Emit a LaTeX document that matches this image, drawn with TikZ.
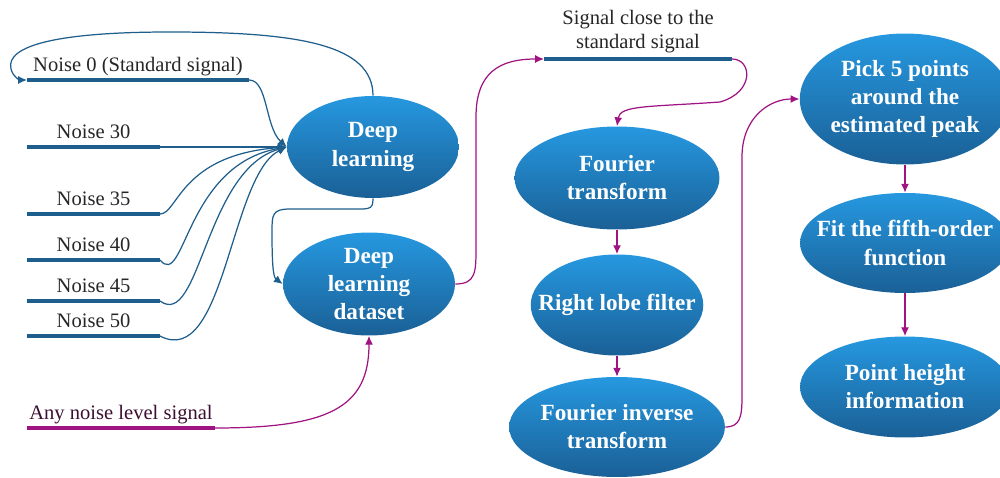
\documentclass[tikz,border=0pt]{standalone}
\usepackage{fontspec}
\setmainfont{Liberation Serif}
\usepackage{tikz}
\usetikzlibrary{arrows.meta}
\usetikzlibrary{shapes.geometric}
\definecolor{sigblue}{RGB}{30,94,140}
\definecolor{sigpurple}{RGB}{160,20,130}
\definecolor{boxtop}{RGB}{38,152,224}
\definecolor{boxbottom}{RGB}{26,96,150}
\definecolor{anytext}{RGB}{60,15,50}
\tikzset{
    process/.style={ellipse, draw=none, top color=boxtop, bottom color=boxbottom,
        text=white, align=center, inner sep=0pt,
        font=\fontsize{13.2}{16}\selectfont\bfseries},
    signal/.style={draw=sigblue, line width=1.9pt},
    anysignal/.style={draw=sigpurple, line width=1.9pt},
    siglabel/.style={midway, anchor=base, yshift=5pt,
        font=\fontsize{11.7}{13.6}\selectfont, text=black!85},
    flow/.style={draw=sigblue, line width=0.7pt, -{Latex[length=5pt,width=4.5pt]}},
    pflow/.style={draw=sigpurple, line width=0.7pt, -{Latex[length=5pt,width=4.5pt]}},
}
\begin{document}
\begin{tikzpicture}[x=0.02cm, y=0.02cm]
	\useasboundingbox (0,0) rectangle (1000,477);
	% processing steps
	\node[process, minimum width=3.44cm, minimum height=2.04cm] (dl) at (373,330) {Deep\\learning};
	\node[process, minimum width=3.44cm, minimum height=2.06cm] (ds) at (369,193) {Deep\\learning\\dataset};
	\node[process, minimum width=4.1cm, minimum height=2.06cm] (ft) at (617,299) {Fourier\\transform};
	\node[process, minimum width=3.42cm, minimum height=2.02cm, inner xsep=-10pt] (rl) at (617,172) {Right lobe filter};
	\node[process, minimum width=4.18cm, minimum height=2.0cm] (fi) at (617,50) {Fourier inverse\\transform};
	\node[process, minimum width=4.2cm, minimum height=2.62cm] (pk) at (905,378) {Pick 5 points\\around the\\estimated peak};
	\node[process, minimum width=4.2cm, minimum height=2.0cm, inner xsep=-8.5pt] (ff) at (905,234) {Fit the fifth-order\\function};
	\node[process, minimum width=4.2cm, minimum height=2.02cm] (ph) at (905,90) {Point height\\information};
	% signals
	\coordinate (n0a) at (27,397);  \coordinate (n0b) at (249,397);
	\coordinate (n30a) at (27,330); \coordinate (n30b) at (160,330);
	\coordinate (n35a) at (27,263); \coordinate (n35b) at (160,263);
	\coordinate (n40a) at (27,217); \coordinate (n40b) at (160,217);
	\coordinate (n45a) at (27,176); \coordinate (n45b) at (160,176);
	\coordinate (n50a) at (27,141); \coordinate (n50b) at (160,141);
	\coordinate (anya) at (27,49);  \coordinate (anyb) at (215,49);
	\coordinate (sca) at (544,418); \coordinate (scb) at (732,418);
	\draw[signal] (n0a) -- node[siglabel] {Noise 0 (Standard signal)} (n0b);
	\draw[signal] (n30a) -- node[siglabel] {Noise 30} (n30b);
	\draw[signal] (n35a) -- node[siglabel] {Noise 35} (n35b);
	\draw[signal] (n40a) -- node[siglabel] {Noise 40} (n40b);
	\draw[signal] (n45a) -- node[siglabel] {Noise 45} (n45b);
	\draw[signal] (n50a) -- node[siglabel] {Noise 50} (n50b);
	\draw[anysignal] (anya) -- node[siglabel, text=anytext] {Any noise level signal} (anyb);
	\draw[signal] (sca) -- node[midway, anchor=south, inner sep=0pt, yshift=2.5pt, align=center,
		font=\fontsize{11.7}{13.6}\selectfont, text=black!85] {Signal close to the\\standard signal} (scb);
	% noise signals into deep learning
	\draw[flow] (n0b) .. controls (268,397) and (265,350) .. (dl.west);
	\draw[flow] (n30b) -- (dl.west);
	\draw[flow] (n35b) .. controls (178,263) and (180,322) .. (dl.west);
	\draw[flow] (n40b) .. controls (185,187) and (185,312) .. (dl.west);
	\draw[flow] (n45b) .. controls (200,147) and (205,307) .. (dl.west);
	\draw[flow] (n50b) .. controls (225,107) and (230,302) .. (dl.west);
	% feedback loops
	\draw[flow] (dl.north) .. controls (373,432) and (300,445) .. (170,445)
		.. controls (60,445) and (5,432) .. (11,408) .. controls (13,400) and (20,397) .. (n0a);
	\draw[flow] (dl.south) .. controls (373,266) and (370,268) .. (340,268) -- (290,268)
		.. controls (272,268) and (272,262) .. (272,245) .. controls (272,215) and (273,200) .. (ds.west);
	\draw[pflow] (anyb) .. controls (330,49) and (369,70) .. (ds.south);
	\draw[pflow] (ds.east) .. controls (476,193) and (476,205) .. (476,230) -- (476,360)
		.. controls (476,405) and (500,418) .. (sca);
	\draw[pflow] (scb) .. controls (752,418) and (755,385) .. (720,375)
		.. controls (650,370) and (620,372) .. (ft.north);
	\draw[pflow] (ft.south) -- (rl.north);
	\draw[pflow] (rl.south) -- (fi.north);
	\draw[pflow] (fi.east) .. controls (740,50) and (742,60) .. (742,80) -- (742,320)
		.. controls (742,360) and (770,378) .. (pk.west);
	\draw[pflow] (pk.south) -- (ff.north);
	\draw[pflow] (ff.south) -- (ph.north);
\end{tikzpicture}
\end{document}
